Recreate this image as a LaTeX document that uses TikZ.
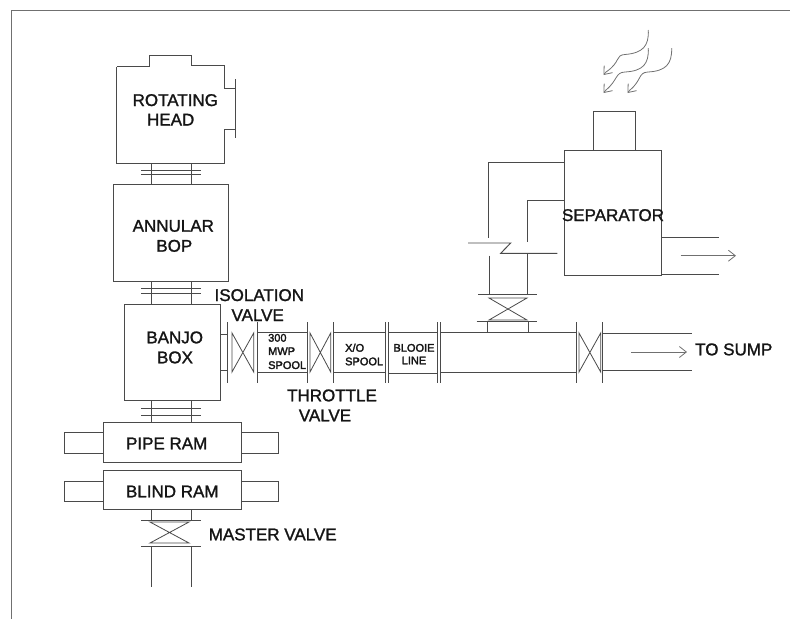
\documentclass[tikz,border=0pt]{standalone}
\usepackage{fontspec}
\setmainfont{Liberation Sans}
\newfontfamily\heavyfont[FakeBold=1.4]{Liberation Sans}
\newfontfamily\smallfont[FakeBold=2.4]{Liberation Sans}
\usetikzlibrary{arrows.meta}
\definecolor{ln}{HTML}{4A4A4A}
\definecolor{fr}{HTML}{707070}
\definecolor{tx}{HTML}{151515}
\tikzset{
  pline/.style={draw=ln,line width=0.95pt},
  box/.style={draw=ln,line width=0.95pt,rectangle,inner sep=0pt,outer sep=0pt},
  lab/.style={text=tx,inner sep=0pt,font=\heavyfont\fontsize{17}{19}\selectfont,text height=12pt,text depth=0pt},
  slab/.style={text=tx,inner sep=0pt,font=\smallfont\fontsize{11}{13}\selectfont,text height=7.9pt,text depth=0pt},
  flow/.style={draw=fr,line width=0.8pt,-{Straight Barb[length=7pt,width=11pt,line width=0.8pt]}},
}
\newcommand{\bx}[5]{\node[box,minimum width=#4-#2,minimum height=#5-#3] (#1) at ({(#2+#4)/2},{(#3+#5)/2}) {};}
\newcommand{\vvalve}[4]{\draw[pline,line width=0.8pt] (#1,#2)--(#3,#4)--(#3,#2)--(#1,#4)--cycle;}
\newcommand{\hvalve}[4]{\draw[pline,line width=0.8pt] (#1,#2)--(#3,#2)--(#1,#4)--(#3,#4)--cycle;}
\begin{document}
\begin{tikzpicture}[x=1pt,y=-1pt]
\useasboundingbox (0,0) rectangle (790,619);
% frame
\draw[draw=fr,line width=0.9pt] (790,10.5) -- (11.5,10.5) -- (11.5,619);
% rotating head
\draw[pline,line join=miter] (116.7,66.7) -- (149,66.7) -- (149,55) -- (191,55) -- (191,65) -- (224.7,65) -- (224.7,88.7) -- (235,88.7)
   (235,79) -- (235,137.7) (235,129) -- (224.7,129) -- (224.7,163) -- (116.7,163) -- (116.7,66.7);
\bx{annular}{113.3}{184}{228.7}{281}
\bx{banjo}{124}{304}{220.7}{400}
\bx{piperam}{103.3}{422}{241}{462}
\bx{blindram}{103.3}{470}{241}{509.7}
\bx{pipeL}{64}{432.7}{103.3}{453}
\bx{pipeR}{241}{432.7}{278.7}{453}
\bx{blindL}{64}{481}{103.3}{501}
\bx{blindR}{241}{481}{278.7}{501}
% necks
\foreach \xx in {151,191}{
  \draw[pline] (\xx,163) -- (\xx,184) (\xx,281) -- (\xx,304) (\xx,400) -- (\xx,422)
     (\xx,509.7) -- (\xx,520) (\xx,546) -- (\xx,587);
}
\foreach \yy in {170,174.7,288,293,408,415,520,546}{
  \draw[pline] (141,\yy) -- (201,\yy);
}
\hvalve{150}{522}{189}{543}
% horizontal line
\draw[pline] (220.7,334) -- (227.7,334) (220.7,370) -- (227.7,370);
\foreach \xx in {227.7,257.3,307,333,385.7,388,437.5,440.7,576,602.7}{
  \draw[pline] (\xx,322) -- (\xx,383);
}
\vvalve{232}{333}{253.7}{372}
\vvalve{310}{333}{330.7}{372}
\vvalve{579}{333}{600.7}{372}
\draw[pline] (257.3,332.5) -- (307,332.5) (257.3,372) -- (307,372);
\draw[pline] (333,332.5) -- (385.7,332.5) (333,372) -- (385.7,372);
\draw[pline] (388,332.5) -- (437.5,332.5) (388,373) -- (437.5,373);
\draw[pline] (440.7,332.5) -- (576,332.5) (440.7,372) -- (576,372);
\draw[pline] (602.7,333) -- (691.7,333) (602.7,370.7) -- (691.7,370.7);
% tee to separator
\draw[pline] (487.7,321.7) -- (487.7,332.5) (528.3,321.7) -- (528.3,332.5);
\draw[pline] (476.7,321.7) -- (536.7,321.7) (478,294) -- (536.7,294);
\hvalve{489}{298}{527}{320}
\bx{separator}{564}{150.7}{661.7}{275.3}
\bx{stack}{593.7}{111.3}{635}{150.7}
\draw[pline] (separator.west |- 0,162.3) -- (488.7,162.3) -- (488.7,238);
\draw[pline] (separator.west |- 0,200) -- (527,200) -- (527,242);
\draw[pline] (489.3,255.7) -- (489.3,294) (527,253) -- (527,294);
\draw[pline] (468,243) -- (510.7,243) -- (500.7,253.3) -- (557.3,253.3);
\draw[pline] (separator.east |- 0,237) -- (719,237) (separator.east |- 0,274.7) -- (719,274.7);
% flow arrows
\coordinate (a1s) at (680.7,255.7); \coordinate (a1e) at (736,255.7);
\coordinate (a2s) at (631,352); \coordinate (a2e) at (687,352);
\draw[flow] (a1s) -- (a1e);
\draw[flow] (a2s) -- (a2e);
\draw[flow] (648.3,30) .. controls (649,46) and (643,53) .. (625,54.5) .. controls (615,55) and (621,62) .. (606,72) -- (603.5,75);
\draw[flow] (648.3,48) .. controls (649,64) and (643,71) .. (625,72) .. controls (615,72.5) and (618,80) .. (606,90) -- (603.5,93);
\draw[flow] (671.7,48) .. controls (672,64) and (666,71) .. (648,72) .. controls (638,72.5) and (642,80) .. (630,90) -- (627.5,93);
% labels
\node[lab] (t1) at (175.3,100) {ROTATING};
\node[lab] (t2) at (170.7,119.5) {HEAD};
\node[lab] (t3) at (173.3,225.7) {ANNULAR};
\node[lab] (t4) at (174.3,245.7) {BOP};
\node[lab] (t5) at (259.3,295) {ISOLATION};
\node[lab] (t6) at (257.7,315) {VALVE};
\node[lab] (t7) at (174.7,337.3) {BANJO};
\node[lab] (t8) at (175,357.3) {BOX};
\node[lab] (t9) at (166.7,443.3) {PIPE RAM};
\node[lab] (t10) at (172.3,491.3) {BLIND RAM};
\node[lab] (t11) at (272.7,534.3) {MASTER VALVE};
\node[lab] (t12) at (332,395.3) {THROTTLE};
\node[lab] (t13) at (325,415.3) {VALVE};
\node[lab] (t14) at (613,215) {SEPARATOR};
\node[lab,anchor=west] (t15) at (695,349.3) {TO SUMP};
\node[slab,anchor=west] (s1) at (268,337.7) {300};
\node[slab,anchor=west] (s2) at (268,351) {MWP};
\node[slab,anchor=west] (s3) at (268,365) {SPOOL};
\node[slab,anchor=west] (s4) at (345,347.7) {X/O};
\node[slab,anchor=west] (s5) at (345,361.3) {SPOOL};
\node[slab] (s6) at (414,347.7) {BLOOIE};
\node[slab] (s7) at (414,360.3) {LINE};
\end{tikzpicture}
\end{document}
